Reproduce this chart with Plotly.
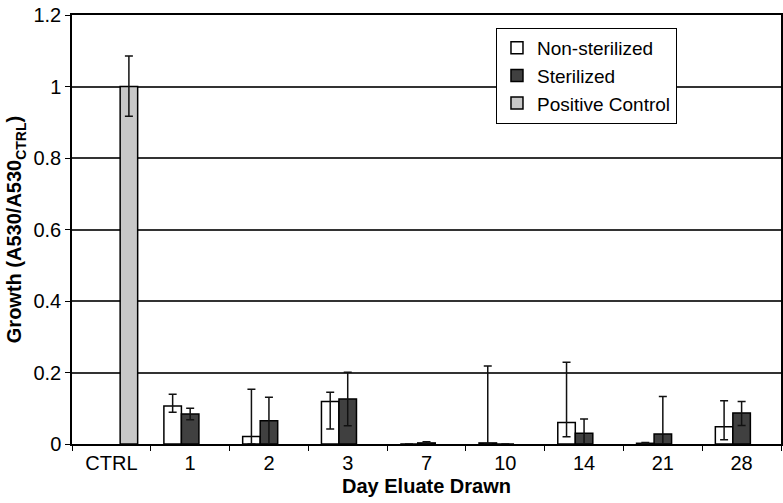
import plotly.graph_objects as go

categories = ["CTRL", "1", "2", "3", "7", "10", "14", "21", "28"]

non_sterilized = [None, 0.106, 0.021, 0.119, 0.0, 0.003, 0.060, 0.002, 0.048]
non_sterilized_err_plus = [None, 0.033, 0.132, 0.026, 0.0, 0.215, 0.169, 0.002, 0.073]
non_sterilized_err_minus = [None, 0.017, 0.021, 0.077, 0.0, 0.003, 0.040, 0.002, 0.036]

sterilized = [None, 0.084, 0.065, 0.126, 0.003, 0.0, 0.030, 0.028, 0.087]
sterilized_err_plus = [None, 0.016, 0.066, 0.075, 0.003, 0.0, 0.040, 0.105, 0.032]
sterilized_err_minus = [None, 0.016, 0.065, 0.075, 0.003, 0.0, 0.030, 0.028, 0.035]

positive_control = [1.0, None, None, None, None, None, None, None, None]
positive_err_plus = [0.085, None, None, None, None, None, None, None, None]
positive_err_minus = [0.083, None, None, None, None, None, None, None, None]

FONT = "Liberation Sans, Arial, sans-serif"

def err(plus, minus):
    return dict(type="data", symmetric=False,
                array=[v if v is not None else 0 for v in plus],
                arrayminus=[v if v is not None else 0 for v in minus],
                color="#111111", thickness=1.5, width=4)

fig = go.Figure()
fig.add_trace(go.Bar(
    name="Non-sterilized", x=categories, y=non_sterilized,
    marker=dict(color="#ffffff", line=dict(color="#000000", width=1.5)),
    error_y=err(non_sterilized_err_plus, non_sterilized_err_minus),
))
fig.add_trace(go.Bar(
    name="Sterilized", x=categories, y=sterilized,
    marker=dict(color="#404040", line=dict(color="#000000", width=1.5)),
    error_y=err(sterilized_err_plus, sterilized_err_minus),
))
fig.add_trace(go.Bar(
    name="Positive Control", x=categories, y=positive_control,
    marker=dict(color="#c8c8c8", line=dict(color="#000000", width=1.5)),
    error_y=err(positive_err_plus, positive_err_minus),
))

fig.update_layout(
    width=783, height=503,
    margin=dict(l=72, r=2, t=15, b=59),
    paper_bgcolor="#ffffff", plot_bgcolor="#ffffff",
    barmode="group", bargap=0.333, bargroupgap=0,
    font=dict(family=FONT, size=20, color="#000000"),
    showlegend=True,
    legend=dict(
        x=0.598, y=0.97, xanchor="left", yanchor="top",
        bgcolor="#ffffff", bordercolor="#000000", borderwidth=1,
        font=dict(family=FONT, size=19, color="#000000"),
        tracegroupgap=0, itemwidth=30,
    ),
    xaxis=dict(
        type="category", tickson="boundaries", ticks="outside", ticklen=5,
        tickcolor="#000000", showline=True, linecolor="#000000", linewidth=1.5,
        mirror=True, showgrid=False, automargin=False,
        title=dict(text="<b>Day Eluate Drawn</b>", font=dict(family=FONT, size=20), standoff=6),
        tickfont=dict(family=FONT, size=20),
    ),
    yaxis=dict(
        range=[0, 1.2], tickvals=[0, 0.2, 0.4, 0.6, 0.8, 1.0, 1.2],
        ticktext=["0", "0.2", "0.4", "0.6", "0.8", "1", "1.2"],
        ticks="outside", ticklen=5, tickcolor="#000000",
        showline=True, linecolor="#000000", linewidth=1.5, mirror=True,
        showgrid=True, gridcolor="#333333", gridwidth=1.5, zeroline=False,
        automargin=False,
        title=dict(text="<b>Growth (A530/A530<sub>CTRL</sub>)</b>", font=dict(family=FONT, size=20), standoff=6),
        tickfont=dict(family=FONT, size=20),
    ),
)

post = (
    "document.documentElement.style.margin='0';"
    "document.body.style.margin='0';document.body.style.padding='0';"
    "document.body.style.overflow='hidden';"
    "var gd=document.getElementById('{plot_id}');"
    "Plotly.relayout(gd,{width:783,height:503});"
)

fig.write_html("out.html", config={"responsive": False, "displayModeBar": False}, post_script=post)
